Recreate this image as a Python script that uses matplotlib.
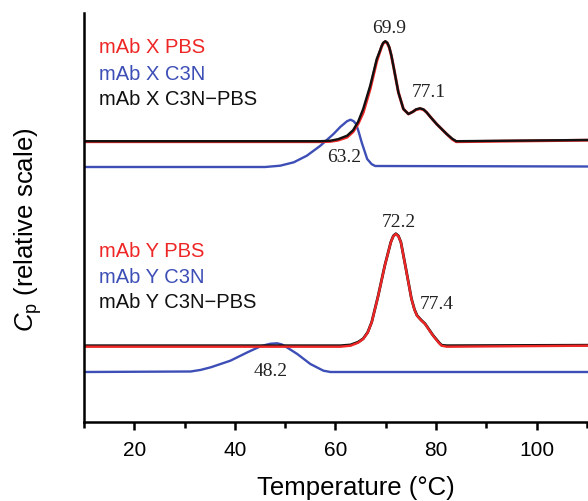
import matplotlib
matplotlib.use("Agg")
import matplotlib.pyplot as plt
from matplotlib.ticker import MultipleLocator

plt.rcParams['font.family'] = ['Liberation Sans', 'DejaVu Sans']
plt.rcParams['mathtext.fontset'] = 'custom'
plt.rcParams['mathtext.rm'] = 'Liberation Sans'
plt.rcParams['mathtext.it'] = 'Liberation Sans:italic'

# mAb X traces (temperature in °C, Cp in relative units)
x_pbs_T  = [10, 57.0, 59.0, 60.5, 62.3, 63.5, 64.5, 65.5, 66.9, 68.2, 68.8, 69.2, 69.5, 69.9, 70.3,
            70.7, 71.1, 71.5, 72.5, 73.5, 74.5, 75.4, 76.0, 76.8, 77.5, 78.1, 79.0, 80.1, 82.1, 83.2,
            84.0, 110]
x_pbs_cp = [280, 280, 280.3, 281.5, 284.5, 290, 298, 309, 333, 360.5, 369.5, 375.5, 378.5, 380, 378.5,
            374, 366, 356, 329.4, 312.7, 307.7, 310, 312, 313, 312, 309.4, 304, 297.7, 287.7, 282.5,
            280, 281.5]
x_diff_T  = x_pbs_T
x_diff_cp = [280.5, 280.5, 281, 282.5, 286, 291.5, 300, 312.7, 336, 362.7, 370.5, 376, 379, 380.5, 379,
             374.4, 366.5, 356, 329.4, 312.7, 307.7, 310, 312.3, 313.4, 312.3, 309.4, 304, 297.7, 287.7,
             283, 280.5, 281.7]
x_c3n_T  = [10, 46.0, 49.0, 51.7, 54.3, 57.0, 59.6, 61.0, 62.3, 63.0, 63.6, 64.1, 64.6, 65.2, 66.3,
            67.2, 67.9, 110]
x_c3n_cp = [254.7, 254.7, 256, 259.4, 266, 276, 287.7, 295, 300.5, 302, 300.5, 297.7, 290, 279.4, 262.7,
            257.5, 255.7, 255.2]

# mAb Y traces
y_pbs_T  = [10, 61.0, 63.0, 64.5, 65.5, 66.4, 67.2, 68.5, 69.8, 71.0, 71.5, 72.0, 72.5, 73.0, 74.0,
            75.1, 75.7, 76.2, 77.0, 77.8, 79.4, 80.6, 81.1, 82.1, 110]
y_pbs_cp = [75, 75, 76, 79, 82.7, 89, 99.4, 126, 156, 179.4, 185.5, 187.7, 185.5, 179.4, 152.7,
            122.7, 112, 106, 101.5, 97.7, 86, 78.5, 76, 75, 76]
y_diff_T  = y_pbs_T
y_diff_cp = [76, 76, 76.8, 79.6, 83, 89.4, 99.6, 126.3, 156.2, 179.6, 185.8, 188, 185.8, 179.6, 153,
             123, 112.3, 106.3, 101.8, 98, 86.3, 79, 76.5, 76, 76.5]
y_c3n_T  = [10, 31.2, 33.2, 35.2, 39.1, 42.5, 45.1, 46.2, 47.1, 48.4, 49.3, 50.0, 52.4, 55.0, 57.6,
            59.0, 110]
y_c3n_cp = [49.7, 50.2, 51.8, 54.4, 61, 69.4, 75.4, 76.9, 78, 78.4, 77.3, 75.4, 67.7, 57.7, 51,
            49.7, 49.7]

legend_x = ["mAb X PBS", "mAb X C3N", "mAb X C3N\u2212PBS"]
legend_y = ["mAb Y PBS", "mAb Y C3N", "mAb Y C3N\u2212PBS"]
peak_labels = ["69.9", "77.1", "63.2", "72.2", "77.4", "48.2"]

red = '#ee2626'
blue = '#3d4fb6'
black = '#111111'

fig = plt.figure(figsize=(5.88, 5.02), dpi=100)
ax = fig.add_axes([84 / 588, 1 - 422.7 / 502, 1 - 84 / 588, (422.7 - 14) / 502])

lw = 1.7
ax.plot(x_c3n_T, x_c3n_cp, color=blue, lw=lw)
ax.plot(x_pbs_T, x_pbs_cp, color=red, lw=lw + 0.4)
ax.plot(x_diff_T, x_diff_cp, color=black, lw=lw)
ax.plot(y_c3n_T, y_c3n_cp, color=blue, lw=lw)
ax.plot(y_diff_T, y_diff_cp, color=black, lw=lw + 0.3)
ax.plot(y_pbs_T, y_pbs_cp, color=red, lw=lw)

ax.set_xlim(10, 110.2)
ax.set_ylim(0, 408.7)

for s in ['top', 'right']:
    ax.spines[s].set_visible(False)
for s in ['left', 'bottom']:
    ax.spines[s].set_linewidth(1.8)
ax.set_yticks([])
ax.xaxis.set_major_locator(MultipleLocator(20))
ax.xaxis.set_minor_locator(MultipleLocator(20, offset=10))
ax.tick_params(axis='x', which='major', direction='out', length=6, width=1.8, labelsize=15, pad=7)
ax.tick_params(axis='x', which='minor', direction='out', length=4, width=1.8)

# legend-like labels
colors = [red, blue, black]
for txt, c, yy in zip(legend_x, colors, [369.7, 342.7, 317.7]):
    ax.text(13.0, yy, txt, color=c, fontsize=14.5, ha='left', va='baseline')
for txt, c, yy in zip(legend_y, colors, [165.7, 139.7, 114.7]):
    ax.text(13.0, yy, txt, color=c, fontsize=14.5, ha='left', va='baseline')

# peak temperatures
peak_pos = [(70.6, 389.7), (78.6, 326), (61.7, 261), (72.6, 195.7), (80.1, 113.4), (47.1, 46.5)]
for lab, (px, py) in zip(peak_labels, peak_pos):
    ax.text(px, py, lab, fontsize=14, family=['Liberation Serif'], color='#222222',
            ha='center', va='baseline')

fig.text(356 / 588, (502 - 495) / 502, "Temperature (\u00b0C)", fontsize=18.5,
         ha='center', va='baseline')
fig.text(28 / 588, 1 - 230 / 502, r"$C_\mathrm{p}$ (relative scale)", fontsize=18.5,
         rotation=90, ha='center', va='center')

fig.savefig("out.png", dpi=100)
